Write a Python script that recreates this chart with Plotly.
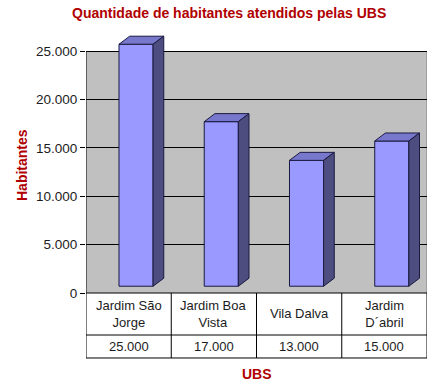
import plotly.graph_objects as go

# ---- data ----
categories = ["Jardim São Jorge", "Jardim Boa Vista", "Vila Dalva", "Jardim D´abril"]
category_labels = ["Jardim São<br>Jorge", "Jardim Boa<br>Vista", "Vila Dalva", "Jardim<br>D´abril"]
habitantes = [25000, 17000, 13000, 15000]
value_labels = ["25.000", "17.000", "13.000", "15.000"]
y_tick_values = [0, 5000, 10000, 15000, 20000, 25000]
y_tick_labels = ["0", "5.000", "10.000", "15.000", "20.000", "25.000"]

# ---- style / geometry ----
FONT = "Arial, 'Liberation Sans', sans-serif"
RED = "#b00000"
TXT = "#1c1c1c"
FRONT = "#9999ff"
TOP = "#7777cc"
SIDE = "#4d4d80"
EDGE = "#1a1a40"
WALL = "#c0c0c0"

BAR_SHIFT = 0.087
BAR_W = 0.4
BASE = 700
DX = 0.125
DY = 830
YMAX = 25000

n = len(categories)
xpos = list(range(n))

fig = go.Figure()

# front faces
fig.add_trace(go.Bar(
    x=[i + BAR_SHIFT for i in xpos], y=habitantes, base=BASE, width=BAR_W,
    marker=dict(color=FRONT, line=dict(color=EDGE, width=1)),
    hoverinfo="skip", showlegend=False, cliponaxis=False,
))

# top and side faces
tx, ty, sx, sy = [], [], [], []
for i, v in zip(xpos, habitantes):
    l = i + BAR_SHIFT - BAR_W / 2
    r = i + BAR_SHIFT + BAR_W / 2
    t = v + BASE
    tx += [l, r, r + DX, l + DX, l, None]
    ty += [t, t, t + DY, t + DY, t, None]
    sx += [r, r + DX, r + DX, r, r, None]
    sy += [BASE, BASE + DY, t + DY, t, BASE, None]

fig.add_trace(go.Scatter(x=tx, y=ty, mode="lines", fill="toself", fillcolor=TOP,
                         line=dict(color=EDGE, width=1), hoverinfo="skip", showlegend=False))
fig.add_trace(go.Scatter(x=sx, y=sy, mode="lines", fill="toself", fillcolor=SIDE,
                         line=dict(color=EDGE, width=1), hoverinfo="skip", showlegend=False))

shapes = []
# back wall
shapes.append(dict(type="rect", xref="x", yref="y", x0=-0.5, x1=n - 0.5, y0=0, y1=YMAX,
                   fillcolor=WALL, line=dict(width=0), layer="below"))
shapes.append(dict(type="line", xref="x", yref="y", x0=n - 0.5, x1=n - 0.5, y0=0, y1=YMAX,
                   line=dict(color="#808080", width=1), layer="below"))
# y axis line
shapes.append(dict(type="line", xref="x", yref="y", x0=-0.5, x1=-0.5, y0=0, y1=YMAX,
                   line=dict(color="black", width=1)))

# data table lines
ROW1 = -0.1597
ROW2 = -0.2471
for b in [i - 0.5 for i in range(n + 1)]:
    shapes.append(dict(type="line", xref="x", yref="paper", x0=b, x1=b, y0=0, y1=ROW2,
                       line=dict(color="black", width=1)))
for yy in [0, ROW1, ROW2]:
    shapes.append(dict(type="line", xref="x", yref="paper", x0=-0.5, x1=n - 0.5, y0=yy, y1=yy,
                       line=dict(color="black", width=1)))

annotations = []
for i, lab, val in zip(xpos, category_labels, value_labels):
    annotations.append(dict(x=i, y=-0.0798, xref="x", yref="paper", text=lab, showarrow=False,
                            font=dict(family=FONT, size=13, color=TXT), align="center",
                            xanchor="center", yanchor="middle"))
    annotations.append(dict(x=i, y=-0.2034, xref="x", yref="paper", text=val, showarrow=False,
                            font=dict(family=FONT, size=13, color=TXT),
                            xanchor="center", yanchor="middle"))

annotations.append(dict(x=(229 - 86) / 341, y=(293 - 13) / 263, xref="paper", yref="paper",
                        text="<b>Quantidade de habitantes atendidos pelas UBS</b>", showarrow=False,
                        font=dict(family=FONT, size=14, color=RED), xanchor="center", yanchor="middle"))
annotations.append(dict(x=(22 - 86) / 341, y=(293 - 165) / 263, xref="paper", yref="paper",
                        text="<b>Habitantes</b>", showarrow=False, textangle=-90,
                        font=dict(family=FONT, size=14, color=RED), xanchor="center", yanchor="middle"))
annotations.append(dict(x=(257 - 86) / 341, y=(293 - 374) / 263, xref="paper", yref="paper",
                        text="<b>UBS</b>", showarrow=False,
                        font=dict(family=FONT, size=14, color=RED), xanchor="center", yanchor="middle"))

fig.update_layout(
    width=441, height=389,
    margin=dict(l=86, r=14, t=30, b=96, pad=0),
    paper_bgcolor="white", plot_bgcolor="white",
    font=dict(family=FONT, size=13, color=TXT),
    shapes=shapes, annotations=annotations,
    barmode="overlay",
    xaxis=dict(range=[-0.5, n - 0.5], showticklabels=False, showgrid=False, zeroline=False,
               showline=False, ticks="", fixedrange=True),
    yaxis=dict(range=[0, 263 / 0.00968], tickvals=y_tick_values, ticktext=y_tick_labels,
               showgrid=True, gridcolor="black", gridwidth=1, zeroline=False, showline=False,
               ticks="outside", ticklen=5, tickcolor="black", tickwidth=1,
               tickfont=dict(family=FONT, size=13.5, color=TXT), fixedrange=True),
)

fig.write_html("out.html", config={"displayModeBar": False},
               post_script="document.body.style.margin='0';document.body.style.overflow='hidden';")
